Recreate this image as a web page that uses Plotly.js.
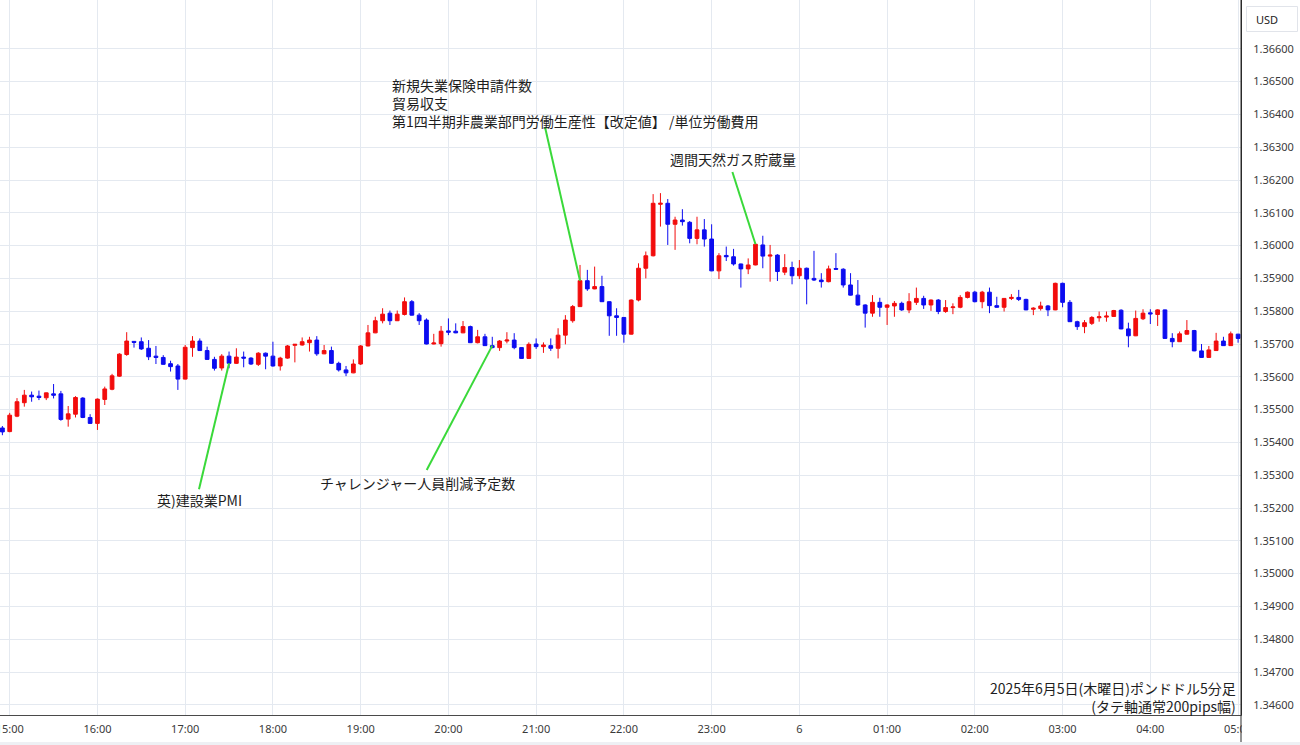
<!DOCTYPE html>
<html>
<head>
<meta charset="utf-8">
<script src="https://cdn.plot.ly/plotly-3.0.1.min.js"></script>
<style>html,body{margin:0;padding:0;background:#fff;}#chart{width:1300px;height:745px;}</style>
</head>
<body>
<div id="chart"></div>
<script>
// 5-minute GBP/USD candles, 2025-06-05 14:55 to 2025-06-06 05:00
const startUTC = Date.UTC(2025, 5, 5, 14, 55);
const stepMinutes = 5;

const openPrices = [
1.35444,1.35433,1.35480,1.35521,1.35544,1.35541,1.35536,1.35548,1.35548,1.35471,
1.35486,1.35535,1.35476,1.35458,1.35531,1.35562,1.35602,1.35668,1.35708,1.35707,
1.35687,1.35663,1.35659,1.35640,1.35633,1.35593,1.35689,1.35709,1.35680,1.35653,
1.35627,1.35663,1.35641,1.35660,1.35657,1.35638,1.35672,1.35663,1.35633,1.35657,
1.35696,1.35697,1.35704,1.35712,1.35670,1.35680,1.35641,1.35621,1.35612,1.35639,
1.35694,1.35734,1.35771,1.35794,1.35771,1.35790,1.35829,1.35788,1.35773,1.35700,
1.35701,1.35740,1.35739,1.35734,1.35753,1.35704,1.35722,1.35695,1.35689,1.35709,
1.35712,1.35689,1.35656,1.35700,1.35692,1.35695,1.35687,1.35727,1.35771,1.35814,
1.35893,1.35868,1.35875,1.35829,1.35786,1.35781,1.35730,1.35834,1.35931,1.35969,
1.36126,1.36129,1.36065,1.36078,1.36071,1.36022,1.36048,1.36020,1.35923,1.35970,
1.35966,1.35944,1.35929,1.35941,1.36002,1.35968,1.35971,1.35919,1.35933,1.35908,
1.35931,1.35900,1.35895,1.35890,1.35930,1.35928,1.35880,1.35849,1.35819,1.35794,
1.35827,1.35812,1.35816,1.35824,1.35804,1.35827,1.35839,1.35819,1.35834,1.35799,
1.35811,1.35812,1.35842,1.35858,1.35829,1.35858,1.35817,1.35812,1.35839,1.35842,
1.35836,1.35806,1.35808,1.35816,1.35804,1.35885,1.35827,1.35768,1.35753,1.35763,
1.35780,1.35782,1.35784,1.35803,1.35746,1.35725,1.35777,1.35795,1.35790,1.35804,
1.35717,1.35707,1.35730,1.35741,1.35679,1.35659,1.35680,1.35709,1.35695,1.35730
];
const highPrices = [
1.35450,1.35490,1.35535,1.35560,1.35555,1.35558,1.35552,1.35578,1.35557,1.35511,
1.35541,1.35538,1.35486,1.35534,1.35570,1.35609,1.35672,1.35736,1.35709,1.35720,
1.35712,1.35694,1.35666,1.35649,1.35639,1.35697,1.35724,1.35717,1.35692,1.35661,
1.35669,1.35677,1.35687,1.35677,1.35660,1.35675,1.35674,1.35707,1.35661,1.35697,
1.35700,1.35720,1.35722,1.35724,1.35697,1.35692,1.35646,1.35633,1.35653,1.35697,
1.35758,1.35783,1.35809,1.35802,1.35802,1.35842,1.35834,1.35794,1.35778,1.35731,
1.35755,1.35778,1.35763,1.35770,1.35756,1.35743,1.35731,1.35722,1.35712,1.35736,
1.35733,1.35690,1.35705,1.35717,1.35705,1.35717,1.35748,1.35788,1.35819,1.35941,
1.35926,1.35936,1.35908,1.35830,1.35809,1.35782,1.35836,1.35946,1.35982,1.36157,
1.36160,1.36142,1.36088,1.36111,1.36075,1.36088,1.36081,1.36065,1.35977,1.35997,
1.35990,1.35945,1.35961,1.36010,1.36030,1.36002,1.35974,1.35974,1.35951,1.35956,
1.35933,1.35984,1.35916,1.35939,1.35977,1.35931,1.35916,1.35895,1.35821,1.35849,
1.35841,1.35821,1.35831,1.35829,1.35855,1.35872,1.35847,1.35836,1.35837,1.35834,
1.35824,1.35849,1.35860,1.35862,1.35862,1.35872,1.35844,1.35840,1.35852,1.35865,
1.35838,1.35812,1.35829,1.35819,1.35887,1.35887,1.35834,1.35771,1.35773,1.35785,
1.35799,1.35799,1.35804,1.35806,1.35765,1.35802,1.35806,1.35806,1.35806,1.35805,
1.35733,1.35738,1.35773,1.35743,1.35700,1.35694,1.35734,1.35722,1.35738,1.35731
];
const lowPrices = [
1.35422,1.35431,1.35477,1.35509,1.35524,1.35529,1.35529,1.35534,1.35466,1.35448,
1.35476,1.35474,1.35457,1.35438,1.35514,1.35559,1.35600,1.35664,1.35689,1.35682,
1.35651,1.35639,1.35637,1.35616,1.35560,1.35592,1.35661,1.35679,1.35652,1.35619,
1.35619,1.35626,1.35639,1.35629,1.35636,1.35633,1.35623,1.35631,1.35619,1.35655,
1.35644,1.35695,1.35677,1.35664,1.35669,1.35639,1.35616,1.35602,1.35611,1.35636,
1.35693,1.35733,1.35763,1.35758,1.35770,1.35787,1.35787,1.35758,1.35699,1.35699,
1.35692,1.35727,1.35733,1.35733,1.35703,1.35702,1.35694,1.35687,1.35679,1.35702,
1.35684,1.35655,1.35655,1.35685,1.35673,1.35679,1.35656,1.35699,1.35765,1.35813,
1.35862,1.35867,1.35828,1.35725,1.35725,1.35704,1.35729,1.35830,1.35900,1.35967,
1.36058,1.36002,1.35987,1.36061,1.36007,1.36004,1.35997,1.35922,1.35898,1.35953,
1.35939,1.35872,1.35913,1.35940,1.35931,1.35890,1.35892,1.35910,1.35882,1.35898,
1.35821,1.35892,1.35872,1.35888,1.35927,1.35872,1.35848,1.35817,1.35750,1.35783,
1.35783,1.35758,1.35783,1.35801,1.35794,1.35819,1.35807,1.35801,1.35791,1.35795,
1.35791,1.35809,1.35839,1.35827,1.35809,1.35794,1.35811,1.35799,1.35834,1.35831,
1.35803,1.35788,1.35802,1.35785,1.35803,1.35812,1.35767,1.35743,1.35733,1.35758,
1.35768,1.35768,1.35783,1.35745,1.35690,1.35724,1.35773,1.35761,1.35755,1.35716,
1.35690,1.35706,1.35729,1.35678,1.35658,1.35658,1.35679,1.35694,1.35694,1.35704
];
const closePrices = [
1.35432,1.35483,1.35524,1.35544,1.35539,1.35537,1.35551,1.35544,1.35470,1.35487,
1.35537,1.35476,1.35458,1.35532,1.35563,1.35603,1.35669,1.35709,1.35705,1.35685,
1.35661,1.35659,1.35638,1.35631,1.35593,1.35690,1.35709,1.35680,1.35653,1.35626,
1.35663,1.35641,1.35660,1.35657,1.35639,1.35672,1.35663,1.35633,1.35657,1.35694,
1.35699,1.35707,1.35712,1.35670,1.35680,1.35641,1.35621,1.35612,1.35639,1.35694,
1.35734,1.35771,1.35791,1.35771,1.35791,1.35829,1.35788,1.35771,1.35700,1.35703,
1.35739,1.35736,1.35734,1.35753,1.35704,1.35722,1.35695,1.35689,1.35709,1.35712,
1.35689,1.35656,1.35699,1.35692,1.35697,1.35687,1.35727,1.35773,1.35814,1.35893,
1.35868,1.35875,1.35829,1.35786,1.35781,1.35730,1.35834,1.35931,1.35969,1.36129,
1.36129,1.36065,1.36078,1.36073,1.36022,1.36048,1.36020,1.35923,1.35969,1.35966,
1.35944,1.35929,1.35941,1.36004,1.35968,1.35971,1.35921,1.35933,1.35908,1.35931,
1.35898,1.35895,1.35890,1.35929,1.35928,1.35880,1.35849,1.35819,1.35794,1.35827,
1.35812,1.35819,1.35824,1.35804,1.35829,1.35839,1.35819,1.35834,1.35799,1.35811,
1.35813,1.35842,1.35858,1.35829,1.35858,1.35817,1.35812,1.35839,1.35842,1.35836,
1.35804,1.35809,1.35816,1.35804,1.35885,1.35827,1.35768,1.35753,1.35765,1.35781,
1.35783,1.35785,1.35802,1.35746,1.35725,1.35778,1.35794,1.35792,1.35804,1.35717,
1.35707,1.35731,1.35741,1.35679,1.35659,1.35682,1.35709,1.35695,1.35731,1.35717
];

const hourTicks = [
'2025-06-05 15:00','2025-06-05 16:00','2025-06-05 17:00','2025-06-05 18:00','2025-06-05 19:00',
'2025-06-05 20:00','2025-06-05 21:00','2025-06-05 22:00','2025-06-05 23:00','2025-06-06 00:00',
'2025-06-06 01:00','2025-06-06 02:00','2025-06-06 03:00','2025-06-06 04:00','2025-06-06 05:00'
];
const hourLabels = ['15:00','16:00','17:00','18:00','19:00','20:00','21:00','22:00','23:00','6',
'01:00','02:00','03:00','04:00','05:00'];
const priceTicks = [1.346,1.347,1.348,1.349,1.350,1.351,1.352,1.353,1.354,1.355,1.356,
1.357,1.358,1.359,1.360,1.361,1.362,1.363,1.364,1.365,1.366];

// economic indicator markers
const eventLabels = ['英)建設業PMI','チャレンジャー人員削減予定数',
  '新規失業保険申請件数<br>貿易収支<br>第1四半期非農業部門労働生産性【改定値】 /単位労働費用',
  '週間天然ガス貯蔵量'];
const eventCandleTimes = ['2025-06-05 17:30','2025-06-05 20:30','2025-06-05 21:30','2025-06-05 23:30'];
const eventCandlePrices = [1.35641, 1.35695, 1.35893, 1.36004];
const eventLineTopTimes = ['2025-06-05 17:09:27','2025-06-05 19:45:09','2025-06-05 21:06:03','2025-06-05 23:14:12'];
const eventLineTopPrices = [1.35257, 1.353159, 1.363616, 1.362244];
const titleText = '2025年6月5日(木曜日)ポンドドル5分足<br>(タテ軸通常200pips幅)';
const currencyLabel = 'USD';

function pad(n){ return String(n).padStart(2,'0'); }
const times = openPrices.map(function(_, i){
  const t = new Date(startUTC + i*stepMinutes*60000);
  return t.getUTCFullYear() + '-' + pad(t.getUTCMonth()+1) + '-' + pad(t.getUTCDate()) + ' ' +
         pad(t.getUTCHours()) + ':' + pad(t.getUTCMinutes());
});

const UP = '#f20c0c', DOWN = '#0c0cf0';
const trace = {
  type: 'candlestick',
  x: times, open: openPrices, high: highPrices, low: lowPrices, close: closePrices,
  increasing: {line: {color: UP, width: 1}, fillcolor: UP},
  decreasing: {line: {color: DOWN, width: 1}, fillcolor: DOWN},
  whiskerwidth: 0,
  hoverinfo: 'skip'
};

const W = 1241, H = 715; // plot area px
function px(x){ return x / W; }
function py(y){ return 1 - y / H; }

const JP = '"Noto Sans CJK JP", "Noto Sans", sans-serif';
const txt = '#1e1e1e';
const green = '#3ad93a';

const shapes = [];
for (let i = 0; i < eventLabels.length; i++) {
  shapes.push({type:'line', xref:'x', yref:'y', x0:eventLineTopTimes[i], y0:eventLineTopPrices[i],
    x1:eventCandleTimes[i], y1:eventCandlePrices[i], line:{color:green, width:2}, layer:'above'});
}
// cover overflow of last x label, separator and bottom strip
shapes.push({type:'rect', xref:'paper', yref:'paper', x0:1.0006, x1:1.06, y0:-0.0005, y1:-0.04, fillcolor:'#ffffff', line:{width:0}, layer:'above'});
shapes.push({type:'line', xref:'paper', yref:'paper', x0:1, x1:1, y0:1, y1:-0.038, line:{color:'#2a2a2a', width:1}, layer:'above'});
shapes.push({type:'rect', xref:'paper', yref:'paper', x0:-0.01, x1:1.06, y0:-0.0378, y1:-0.045, fillcolor:'#eef0f4', line:{width:0}, layer:'above'});
// USD box
shapes.push({type:'rect', xref:'paper', yref:'paper', x0:px(1246.5), x1:px(1297.5), y0:py(31.5), y1:py(6.5), fillcolor:'#ffffff', line:{color:'#e1e4ea', width:1}, layer:'above'});

const annotations = [
  {text:eventLabels[0], x:px(155.5), y:py(500), xanchor:'left', yanchor:'middle', align:'left'},
  {text:eventLabels[1], x:px(318.5), y:py(483), xanchor:'left', yanchor:'middle', align:'left'},
  {text:eventLabels[2], x:px(390.5), y:py(103), xanchor:'left', yanchor:'middle', align:'left'},
  {text:eventLabels[3], x:px(669), y:py(159), xanchor:'left', yanchor:'middle', align:'left'},
  {text:titleText, x:px(1236.5), y:py(697), xanchor:'right', yanchor:'middle', align:'right'}
].map(function(a){
  return Object.assign({xref:'paper', yref:'paper', showarrow:false, borderpad:0,
    font:{family:JP, size:14, color:txt}}, a);
});
annotations.push({text:currencyLabel, xref:'paper', yref:'paper', x:px(1255), y:py(19.5), xanchor:'left', yanchor:'middle',
  showarrow:false, borderpad:0, font:{family:'"Noto Sans", sans-serif', size:11, color:'#222'}});

const tickFont = {family:'"Noto Sans", sans-serif', size:11, color:'#3a3a3a'};
const layout = {
  width: 1300, height: 745,
  margin: {l:0, r:59, t:0, b:30, pad:0},
  paper_bgcolor: '#ffffff', plot_bgcolor: '#ffffff',
  showlegend: false,
  boxgap: 0.27,
  xaxis: {
    type:'date', range:['2025-06-05 14:53:22','2025-06-06 05:02:00'],
    tickmode:'array', tickvals: hourTicks, ticktext: hourLabels,
    showgrid:true, gridcolor:'#e4e9f0', gridwidth:1, zeroline:false,
    showline:true, linecolor:'#4a4a4a', linewidth:1, ticks:'',
    tickfont: tickFont, ticklabelstandoff: 4, ticklabeloverflow:'allow',
    rangeslider:{visible:false}, automargin:false, fixedrange:true
  },
  yaxis: {
    side:'right', range:[1.345689, 1.367488],
    tickmode:'array', tickvals: priceTicks, tickformat:'.5f',
    showgrid:true, gridcolor:'#e4e9f0', gridwidth:1, zeroline:false,
    showline:true, linecolor:'#2a2a2a', linewidth:1, ticks:'',
    tickfont: tickFont, ticklabelstandoff: 9,
    automargin:false, fixedrange:true
  },
  shapes: shapes,
  annotations: annotations
};

Plotly.newPlot('chart', [trace], layout, {displayModeBar:false, staticPlot:true});
</script>
</body>
</html>
